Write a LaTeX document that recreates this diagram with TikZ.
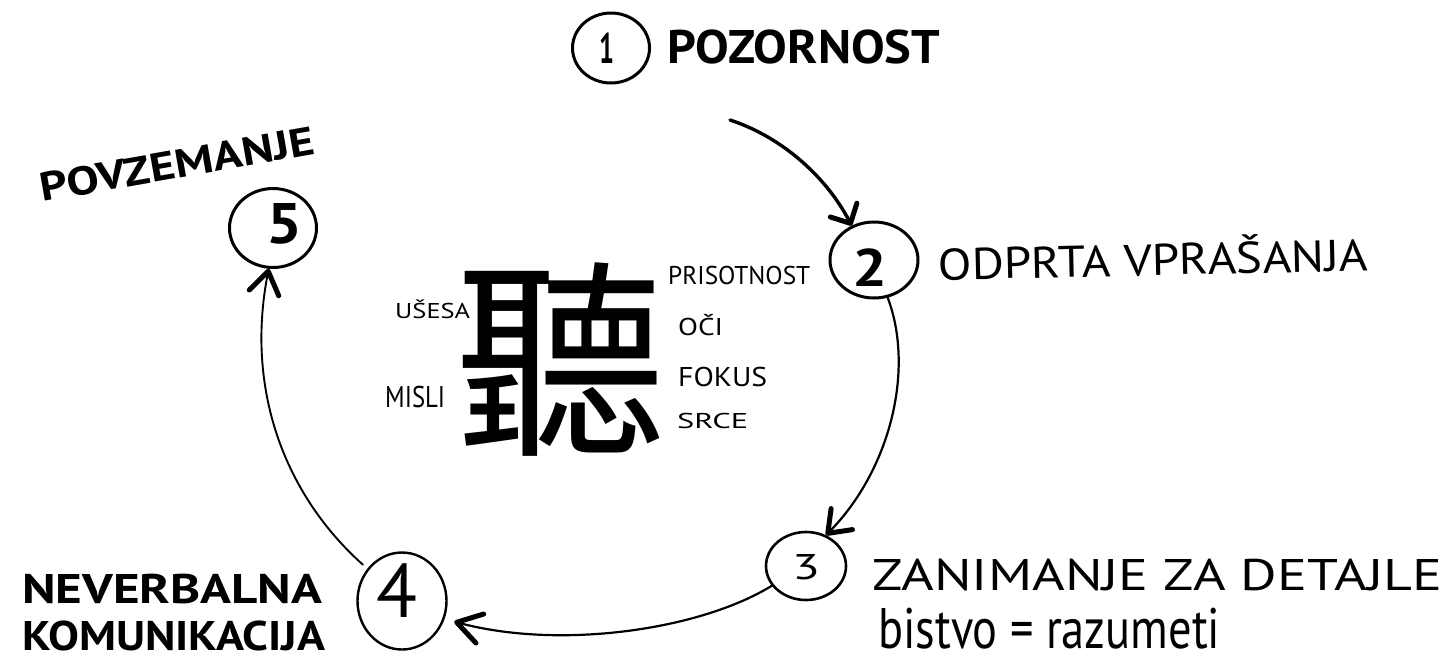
\documentclass[tikz,border=0pt]{standalone}
\usepackage{fontspec}
\usepackage{graphicx}
\setmainfont{PT Sans}
\newfontfamily\cjkfont{Noto Sans CJK TC}
\usetikzlibrary{arrows.meta,shapes.geometric}
% scale a line of capitals to a given width and cap height (accents kept, not counted)
\newcommand{\fitcaps}[3]{\resizebox{#1pt}{#2pt}{\vphantom{H}\smash{#3}}}
\begin{document}
\begin{tikzpicture}[x=1pt,y=-1pt,
  ring/.style={draw, ellipse, line width=3pt, inner sep=0pt},
  digit/.style={inner sep=0pt, anchor=center},
  lbl/.style={inner sep=0pt, anchor=base west},
  mid/.style={inner sep=0pt, anchor=center},
  conn/.style={line width=2.2pt, line cap=round},
  barbtip/.style={-{Straight Barb[length=#1, width=30pt, line width=5pt, round]}}
]
\fill[white] (0,0) rectangle (1452,657);
\useasboundingbox (0,0) rectangle (1452,657);

% the five stages
\node[ring, minimum width=77pt, minimum height=70pt] (c1) at (611,48) {};
\node[ring, minimum width=88pt, minimum height=76pt] (c2) at (874,260) {};
\node[ring, minimum width=80pt, minimum height=68pt, line width=2.6pt] (c3) at (806,566) {};
\node[ring, minimum width=89pt, minimum height=97pt, line width=2.4pt] (c4) at (402,601) {};
\node[ring, minimum width=87pt, minimum height=79pt] (c5) at (273,228) {};

\node[digit] (d1) at (607,48) {\bfseries\fitcaps{15}{30}{1}};
\node[digit] (d2) at (870,268) {\bfseries\fitcaps{35}{37}{2}};
\node[digit] (d3) at (806,567) {\fitcaps{28}{25}{3}};
\node[digit] (d4) at (397,591) {\fitcaps{41}{53}{4}};
\node[digit] (d5) at (285,223) {\bfseries\fitcaps{36}{40}{5}};

% stage names
\node[lbl] (t1) at (667,63) {\bfseries\fitcaps{273}{33}{POZORNOST}};
\node[mid, rotate=1.3] (t2) at (1153,260) {\fitcaps{430}{31}{ODPRTA VPRAŠANJA}};
\node[lbl] (t3) at (872,590) {\fitcaps{570}{31}{ZANIMANJE ZA DETAJLE}};
\node[lbl] (t3b) at (878,648) {\resizebox{342pt}{40pt}{\vphantom{b}\smash{bistvo = razumeti}}};
\node[lbl] (t4a) at (22,603) {\bfseries\fitcaps{300}{29}{NEVERBALNA}};
\node[lbl] (t4b) at (22,650) {\bfseries\fitcaps{303}{29}{KOMUNIKACIJA}};
\node[mid, rotate=10] (t5) at (177,164) {\bfseries\fitcaps{278}{28}{POVZEMANJE}};

% the character for listening and its parts
\node[inner sep=0pt, anchor=base] (ting) at (561,439) {\cjkfont\fontsize{211pt}{211pt}\selectfont 聽};
\node[lbl] (p1) at (395,318) {\fitcaps{75}{15}{UŠESA}};
\node[lbl] (p2) at (385,407) {\fitcaps{60}{21}{MISLI}};
\node[lbl] (p3) at (668,284) {\fitcaps{142}{18}{PRISOTNOST}};
\node[lbl] (p4) at (678,335) {\fitcaps{45}{17}{OČI}};
\node[lbl] (p5) at (678,386) {\fitcaps{89}{19}{FOKUS}};
\node[lbl] (p6) at (677,428) {\fitcaps{71}{15}{SRCE}};

% the cycle
\coordinate (s1) at (730,120);
\draw[conn, line width=3.4pt, barbtip=15pt] (s1) .. controls (785,138) and (828,180) .. (c2.123);
\draw[conn, barbtip=20pt] (c2.-70) .. controls (915,370) and (890,470) .. (c3.57);
\draw[conn, barbtip=24pt, shorten >=10pt] (c3.210) .. controls (700,630) and (560,650) .. (c4.-23);
\draw[conn, line width=1.9pt, barbtip=22pt, shorten <=6pt] (c4.137) .. controls (285,495) and (245,390) .. (c5.-96);
\end{tikzpicture}
\end{document}
